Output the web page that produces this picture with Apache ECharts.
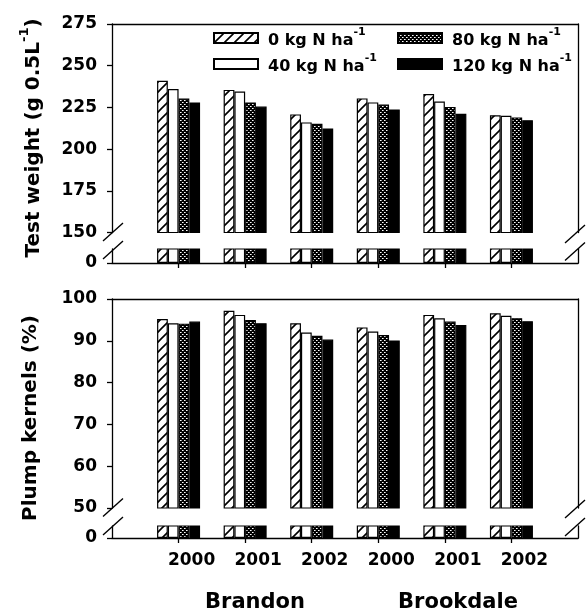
<!DOCTYPE html>
<html>
<head>
<meta charset="utf-8">
<script src="https://cdn.jsdelivr.net/npm/echarts@6/dist/echarts.min.js"></script>
<style>
  html, body { margin: 0; padding: 0; background: #fff; }
  #chart { width: 587px; height: 615px; }
</style>
</head>
<body>
<div id="chart"></div>
<script>
'use strict';

/*---- data ----*/
var years = ['2000', '2001', '2002', '2000', '2001', '2002'];
var sites = ['Brandon', 'Brookdale'];
var rates = ['0', '40', '80', '120'];

var testWeight0   = [241.0, 235.5, 220.8, 230.4, 233.0, 220.3];
var testWeight40  = [236.0, 234.5, 216.0, 228.0, 228.5, 220.0];
var testWeight80  = [230.3, 228.0, 215.2, 226.7, 225.3, 219.0];
var testWeight120 = [228.0, 225.5, 212.4, 223.8, 221.2, 217.3];

var plump0   = [95.2, 97.2, 94.2, 93.2, 96.2, 96.6];
var plump40  = [94.2, 96.2, 92.0, 92.2, 95.4, 96.0];
var plump80  = [94.1, 95.0, 91.2, 91.4, 94.6, 95.4];
var plump120 = [94.6, 94.2, 90.3, 90.1, 93.8, 94.7];

var testWeightTicks = [150, 175, 200, 225, 250, 275];
var plumpTicks = [50, 60, 70, 80, 90, 100];

/*---- fill patterns ----*/
function hatchPattern() {
	var c = document.createElement('canvas');
	c.width = 10; c.height = 10;
	var g = c.getContext('2d');
	g.fillStyle = '#fff';
	g.fillRect(0, 0, 10, 10);
	g.strokeStyle = '#000';
	g.lineWidth = 1.6;
	g.beginPath();
	g.moveTo(-1, 11); g.lineTo(11, -1);
	g.moveTo(-11, 11); g.lineTo(1, -1);
	g.moveTo(9, 11); g.lineTo(21, -1);
	g.stroke();
	return c;
}
function dotPattern() {
	var c = document.createElement('canvas');
	c.width = 4; c.height = 4;
	var g = c.getContext('2d');
	g.fillStyle = '#000';
	g.fillRect(0, 0, 4, 4);
	g.fillStyle = '#fff';
	g.fillRect(0, 0, 1, 1);
	g.fillRect(2, 2, 1, 1);
	g.fillStyle = '#999';
	g.fillRect(1, 0, 1, 1);
	g.fillRect(3, 2, 1, 1);
	return c;
}

var fills = [
	{ image: hatchPattern(), repeat: 'repeat' },
	'#fff',
	{ image: dotPattern(), repeat: 'repeat' },
	'#000'
];
var names = rates.map(function (r) { return '{t|' + r + ' kg N ha}{s|-1}'; });
var rateNames = rates.map(function (r) { return r + ' kg N ha-1'; });

var font = 'DejaVu Sans';
var cats = [''].concat(years, ['']);
function pad(arr) { return ['-'].concat(arr, ['-']); }
function inner(idx) { return idx > 0 && idx < cats.length - 1; }

/*---- layout (px) ----*/
var gridLeft = 112, gridRight = 9;
var grids = [
	{ left: gridLeft, right: gridRight, top: 24, height: 208.5 },
	{ left: gridLeft, right: gridRight, top: 249, height: 14 },
	{ left: gridLeft, right: gridRight, top: 299, height: 209 },
	{ left: gridLeft, right: gridRight, top: 526, height: 12 }
];

var lineStyle = { color: '#000', width: 1.3 };
var tickLabel = { color: '#000', fontFamily: font, fontWeight: 'bold', fontSize: 17, margin: 15 };

function xAxisFor(gridIndex, lower, labels) {
	return {
		type: 'category', gridIndex: gridIndex, data: cats, boundaryGap: false,
		position: lower ? 'bottom' : 'top',
		axisLine: { show: true, onZero: false, lineStyle: lineStyle },
		axisTick: { show: lower, length: 5, interval: function (i) { return inner(i); }, lineStyle: lineStyle },
		axisLabel: labels ? {
			show: true, interval: function (i) { return inner(i); },
			color: '#000', fontFamily: font, fontWeight: 'bold', fontSize: 17,
			margin: 14, padding: [0, 0, 0, 26]
		} : { show: false },
		splitLine: { show: false }
	};
}
function yAxisFor(gridIndex, ticks) {
	return {
		type: 'value', gridIndex: gridIndex, position: 'left',
		min: ticks[0], max: ticks[ticks.length - 1], interval: ticks[1] - ticks[0],
		axisLine: { show: true, lineStyle: lineStyle },
		axisTick: { show: true, length: 5, lineStyle: lineStyle },
		axisLabel: tickLabel,
		splitLine: { show: false }
	};
}
function yStubFor(gridIndex) {
	return {
		type: 'value', gridIndex: gridIndex, position: 'left', min: 0, max: 10, interval: 10,
		axisLine: { show: true, lineStyle: lineStyle },
		axisTick: { show: true, length: 5, customValues: [0], lineStyle: lineStyle },
		axisLabel: Object.assign({}, tickLabel, { customValues: [0], formatter: function (v) { return v === 0 ? '0' : ''; } }),
		splitLine: { show: false }
	};
}
function yRightFor(gridIndex) {
	return {
		type: 'value', gridIndex: gridIndex, position: 'right', min: 0, max: 1,
		axisLine: { show: true, lineStyle: lineStyle },
		axisTick: { show: false }, axisLabel: { show: false }, splitLine: { show: false }
	};
}

var panelData = [
	[testWeight0, testWeight40, testWeight80, testWeight120],
	[plump0, plump40, plump80, plump120]
];

var series = [];
[0, 1, 2, 3].forEach(function (g) {
	var values = panelData[g < 2 ? 0 : 1];
	values.forEach(function (vals, i) {
		series.push({
			name: rateNames[i],
			type: 'bar',
			xAxisIndex: g, yAxisIndex: g,
			data: pad(vals),
			barWidth: 10.75,
			barGap: '0%',
			clip: true,
			itemStyle: { color: fills[i], borderColor: '#000', borderWidth: 1.2 },
			emphasis: { disabled: true }
		});
	});
});

var legendText = {
	color: '#000', fontFamily: font, fontWeight: 'bold', fontSize: 16,
	padding: [0, 0, 0, 5],
	rich: {
		t: { fontFamily: font, fontWeight: 'bold', fontSize: 16, color: '#000', lineHeight: 22, verticalAlign: 'bottom' },
		s: { fontFamily: font, fontWeight: 'bold', fontSize: 11, color: '#000', lineHeight: 22, verticalAlign: 'top' }
	}
};
function legendFor(left, items) {
	return {
		orient: 'vertical', left: left, top: 27, itemGap: 4, padding: 0,
		itemWidth: 44, itemHeight: 10, icon: 'rect',
		data: items, selectedMode: false,
		formatter: function (n) { return names[rateNames.indexOf(n)]; },
		textStyle: legendText
	};
}

function breakMarks(cx, yUpper, yLower) {
	return [yUpper, yLower].map(function (cy) {
		return {
			type: 'line', silent: true,
			shape: { x1: cx - 10, y1: cy + 9, x2: cx + 10, y2: cy - 9 },
			style: { stroke: '#000', lineWidth: 1.4 }
		};
	});
}

var titleFont = { fill: '#000', fontFamily: font, fontWeight: 'bold', fontSize: 20 };
var graphics = []
	.concat(breakMarks(113, 232, 250), breakMarks(575, 234, 251.5))
	.concat(breakMarks(113, 507.5, 526), breakMarks(575, 509, 527))
	.concat([
		{ type: 'text', x: 31, y: 138, rotation: Math.PI / 2,
		  style: { text: '{t|Test weight (g 0.5L}{s|-1}{t|)}', align: 'center', verticalAlign: 'middle',
			rich: { t: Object.assign({}, titleFont, { lineHeight: 26, verticalAlign: 'bottom' }),
			        s: Object.assign({}, titleFont, { fontSize: 13, lineHeight: 26, verticalAlign: 'top' }) } } },
		{ type: 'text', x: 31, y: 418, rotation: Math.PI / 2,
		  style: Object.assign({ text: 'Plump kernels (%)', align: 'center', verticalAlign: 'middle' }, titleFont) },
		{ type: 'text', x: 255, y: 603,
		  style: Object.assign({ text: sites[0], align: 'center', verticalAlign: 'middle' }, titleFont, { fontSize: 21 }) },
		{ type: 'text', x: 458, y: 603,
		  style: Object.assign({ text: sites[1], align: 'center', verticalAlign: 'middle' }, titleFont, { fontSize: 21 }) }
	]);

var option = {
	animation: false,
	backgroundColor: '#fff',
	grid: grids,
	xAxis: [xAxisFor(0, false, false), xAxisFor(1, true, false), xAxisFor(2, false, false), xAxisFor(3, true, true)],
	yAxis: [yAxisFor(0, testWeightTicks), yStubFor(1), yAxisFor(2, plumpTicks), yStubFor(3),
		yRightFor(0), yRightFor(1), yRightFor(2), yRightFor(3)],
	legend: [legendFor(213, [rateNames[0], rateNames[1]]), legendFor(397, [rateNames[2], rateNames[3]])],
	series: series,
	graphic: graphics
};

var chart = echarts.init(document.getElementById('chart'), null, { renderer: 'canvas' });
chart.setOption(option);
</script>
</body>
</html>
